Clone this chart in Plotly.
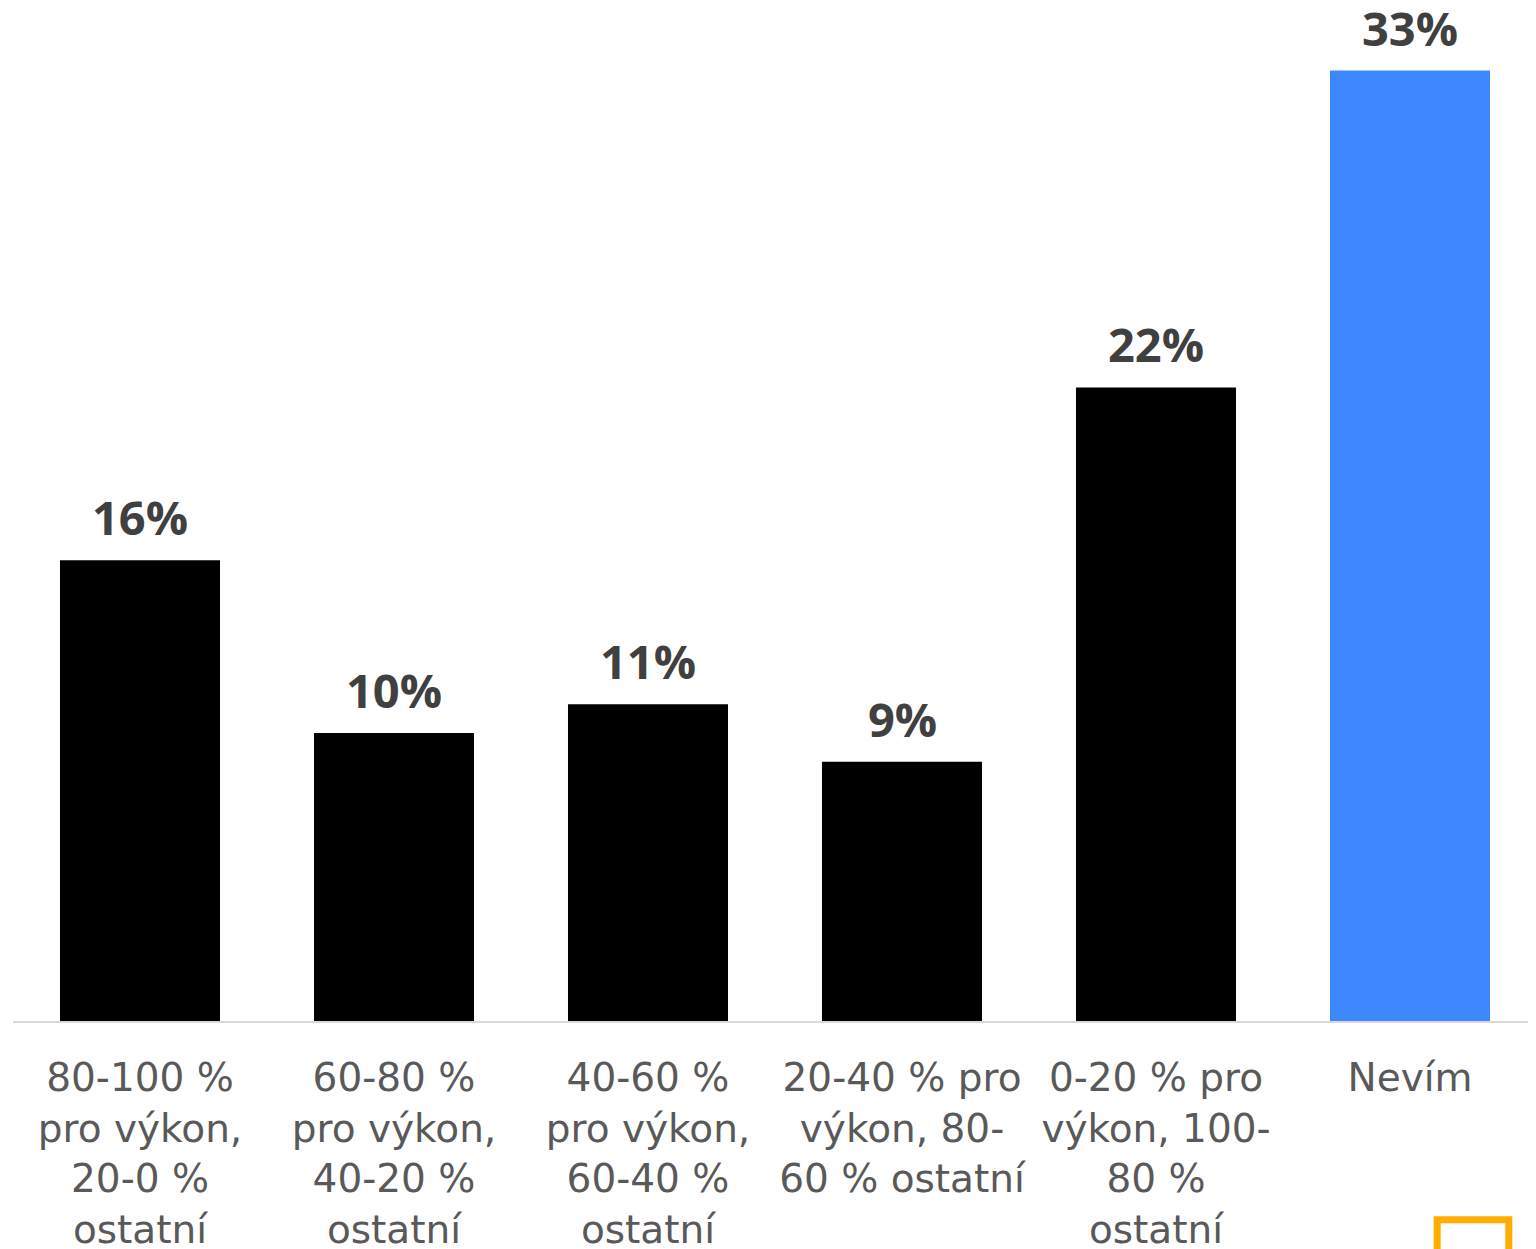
import plotly.graph_objects as go

categories = [
    "80-100 %<br>pro výkon,<br>20-0 %<br>ostatní",
    "60-80 %<br>pro výkon,<br>40-20 %<br>ostatní",
    "40-60 %<br>pro výkon,<br>60-40 %<br>ostatní",
    "20-40 % pro<br>výkon, 80-<br>60 % ostatní",
    "0-20 % pro<br>výkon, 100-<br>80 %<br>ostatní",
    "Nevím",
]
values = [16, 10, 11, 9, 22, 33]
value_labels = ["16%", "10%", "11%", "9%", "22%", "33%"]
bar_colors = ["#000000"] * 5 + ["#3d88fe"]

fig = go.Figure()
fig.add_trace(go.Bar(
    x=list(range(len(categories))),
    y=values,
    marker=dict(color=bar_colors, line=dict(width=0)),
    hoverinfo="skip",
))

# value labels above the bars
for i, (v, lab) in enumerate(zip(values, value_labels)):
    fig.add_annotation(
        x=i, y=v, text=lab, showarrow=False,
        yanchor="bottom", yshift=9,
        font=dict(family="Open Sans", size=47, color="#404040", weight="bold"),
    )

# orange frame peeking in at the bottom right corner
fig.add_shape(
    type="rect", xref="paper", yref="paper",
    x0=0.9345, x1=0.9815, y0=-0.2005, y1=-0.35,
    line=dict(color="#ffae00", width=7),
)

# page body adds ~8px offset, so margins are trimmed to compensate
fig.update_layout(
    width=1536,
    height=1249,
    margin=dict(l=5, r=7, t=22, b=236),
    plot_bgcolor="white",
    paper_bgcolor="white",
    bargap=0.37,
    showlegend=False,
    xaxis=dict(
        tickmode="array",
        tickvals=list(range(len(categories))),
        ticktext=categories,
        range=[-0.5, 5.5],
        showline=True,
        linecolor="#d9d9d9",
        linewidth=2,
        showgrid=False,
        ticks="",
        tickangle=0,
        ticklabelstandoff=21,
        tickfont=dict(family="DejaVu Sans", size=39, color="#595959"),
    ),
    yaxis=dict(
        range=[0, 34.41],
        visible=False,
        showgrid=False,
        zeroline=False,
    ),
)

fig.write_html("out.html")
